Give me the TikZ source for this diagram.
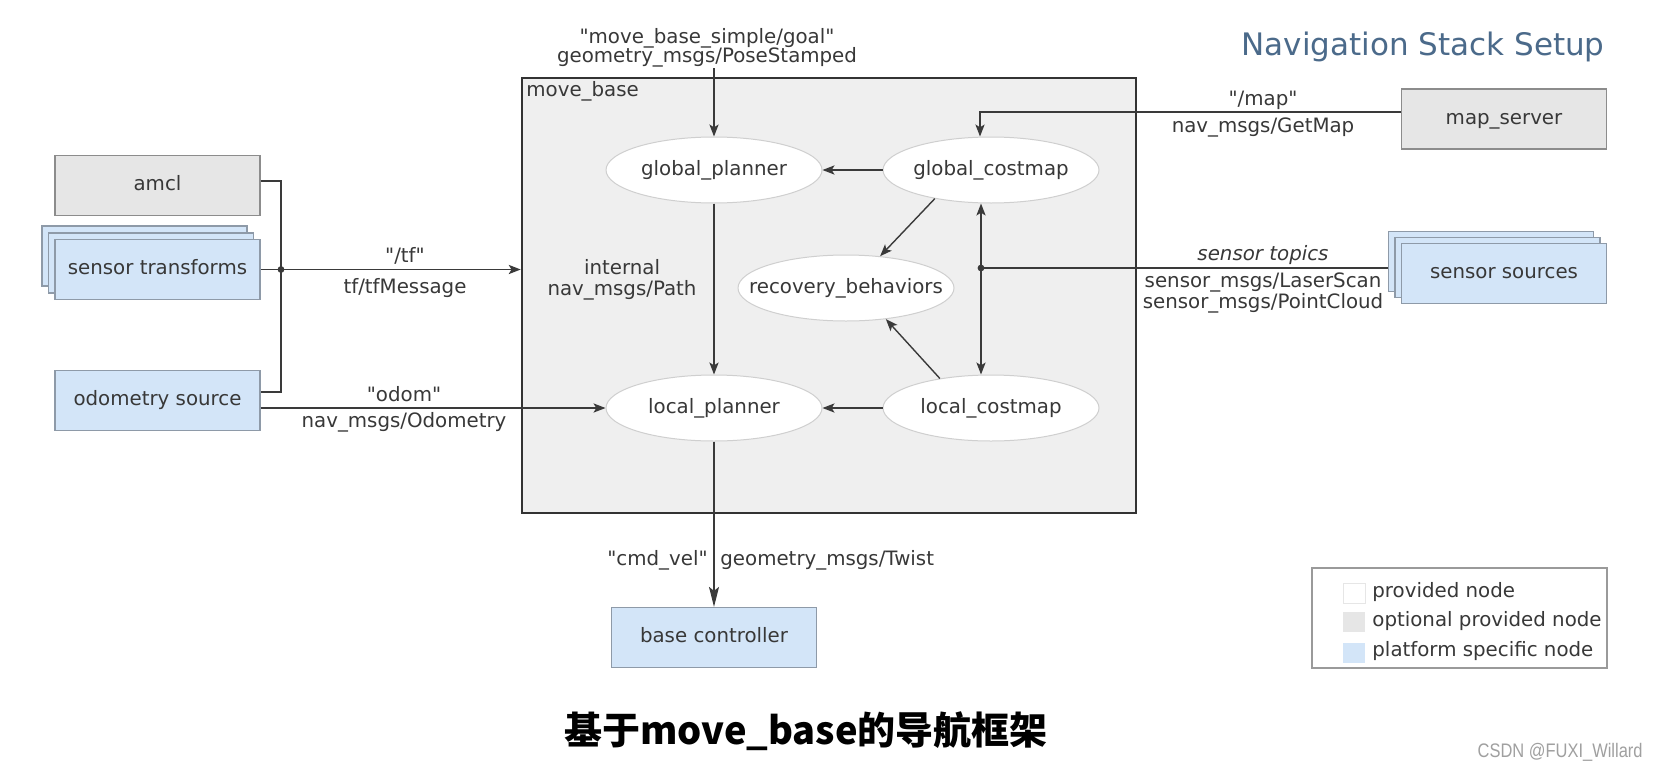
\documentclass[tikz,border=0pt]{standalone}
\usepackage{fontspec}
\setmainfont{DejaVu Sans}[Ligatures=TeXOff]
\newfontfamily\cjk{Noto Sans CJK SC}
\newfontfamily\wmfont[FakeStretch=0.84]{Liberation Sans}
\usetikzlibrary{shapes.geometric,arrows.meta,calc}
\newcommand\qd{\symbol{34}}
\newcommand\ellt[1]{\makebox[0pt]{#1}}
\definecolor{txt}{HTML}{383838}
\definecolor{linec}{HTML}{3A3A3A}
\definecolor{boxb}{HTML}{8C8C8C}
\definecolor{grayf}{HTML}{E6E6E6}
\definecolor{bluef}{HTML}{D3E5F8}
\definecolor{blueb}{HTML}{8E9AA8}
\definecolor{ellb}{HTML}{CFCFCF}
\definecolor{mbf}{HTML}{EFEFEF}
\definecolor{mbb}{HTML}{333333}
\definecolor{titlec}{HTML}{4B6A8A}
\definecolor{legb}{HTML}{9A9A9A}
\definecolor{wmc}{HTML}{A0A0A0}
\tikzset{
  tx/.style={font=\fontsize{9.9}{11}\selectfont, text=txt, text height=0.73em, text depth=0.23em},
  nbox/.style={tx, rectangle, draw=boxb, line width=0.6pt, minimum width=102.5pt, minimum height=30pt, inner sep=0},
  graybox/.style={nbox, fill=grayf},
  bluebox/.style={nbox, fill=bluef, draw=blueb},
  ell/.style={tx, ellipse, draw=ellb, fill=white, line width=0.5pt, minimum width=108pt, minimum height=33pt, inner sep=0},
  lbl/.style={tx, inner sep=0},
  wire/.style={draw=linec, line width=0.7pt},
  conn/.style={wire, ->},
  swatch/.style={rectangle, minimum width=11pt, minimum height=10pt, inner sep=0},
}
\begin{document}
\begin{tikzpicture}[x=0.5pt, y=-0.5pt, >={Stealth[length=6pt,width=4.6pt,inset=1.4pt]}]
\useasboundingbox[fill=white] (0,0) rectangle (1657,776);

% title
\node[anchor=base east, inner sep=0, font=\fontsize{15.5}{18}\selectfont, text=titlec] (title) at (1605,55) {Navigation Stack Setup};

% move_base container
\node[rectangle, draw=mbb, fill=mbf, line width=1.3pt, minimum width=307pt, minimum height=217.5pt, inner sep=0] (mb) at (829,295.5) {};
\node[lbl, anchor=west] (mbl) at (526,91) {move\_base};

% ellipses
\node[ell] (gp) at (714,170) {\ellt{global\_planner}};
\node[ell] (gc) at (991,170) {\ellt{global\_costmap}};
\node[ell] (rb) at (846,288) {\ellt{recovery\_behaviors}};
\node[ell] (lp) at (714,408) {\ellt{local\_planner}};
\node[ell] (lc) at (991,408) {\ellt{local\_costmap}};

% left nodes
\node[graybox] (amcl) at (157.5,185.5) {amcl};
\node[bluebox] (st3) at (144.5,256) {};
\node[bluebox] (st2) at (151,263) {};
\node[bluebox] (st) at (157.5,269.5) {sensor transforms};
\node[bluebox] (odom) at (157.5,400.5) {odometry source};

% right nodes
\node[graybox] (ms) at (1504,119) {map\_server};
\node[bluebox] (ss3) at (1491,261.5) {};
\node[bluebox] (ss2) at (1497.5,267.5) {};
\node[bluebox] (ss) at (1504,273.5) {sensor sources};

% bottom node
\node[bluebox] (bc) at (714,637.5) {base controller};

% goal input
\coordinate (goalc) at (714,68);
\node[lbl] (goal1) at (707,38) {\qd move\_base\_simple/goal\qd};
\node[lbl] (goal2) at (707,57) {geometry\_msgs/PoseStamped};
\draw[conn] (goalc) -- (gp.north);

% internal connections
\draw[conn] (gc.west) -- (gp.east);
\draw[conn] (gp.south) -- (lp.north);
\draw[conn] (lc.west) -- (lp.east);
\draw[conn] (gc.207) -- (rb.43);
\draw[conn] (lc.150) -- (rb.322);
\node[lbl] (int1) at (622,269) {internal};
\node[lbl] (int2) at (622,290) {nav\_msgs/Path};

% costmap double arrow and sensor line
\coordinate (sdot) at (981,268);
\draw[wire, <->] (sdot |- gc.south) -- (sdot |- lc.north);
\draw[wire] (ss3.west |- sdot) -- (sdot);
\fill[linec] (sdot) circle[radius=1.7pt];
\node[lbl, font=\fontsize{9.9}{11}\selectfont\itshape] (stop) at (1263,255) {sensor topics};
\node[lbl] (ls) at (1263,282) {sensor\_msgs/LaserScan};
\node[lbl] (pc) at (1263,303) {sensor\_msgs/PointCloud};

% map
\coordinate (mapc) at (980,112);
\draw[conn] (ms.west |- mapc) -- (mapc) -- (mapc |- gc.north);
\node[lbl] (map1) at (1263,100) {\qd/map\qd};
\node[lbl] (map2) at (1263,127) {nav\_msgs/GetMap};

% left bus
\coordinate (busT) at (281,181);
\coordinate (busB) at (281,392);
\coordinate (busD) at (281,269.5);
\draw[wire] (amcl.east |- busT) -- (busT) -- (busB) -- (odom.east |- busB);
\draw[conn] (st.east) -- (mb.west |- st.east);
\fill[linec] (busD) circle[radius=1.7pt];
\node[lbl] (tf1) at (405,257) {\qd/tf\qd};
\node[lbl] (tf2) at (405,288) {tf/tfMessage};

% odom
\draw[conn] (odom.east |- lp.west) -- (lp.west);
\node[lbl] (od1) at (404,396) {\qd odom\qd};
\node[lbl] (od2) at (404,422) {nav\_msgs/Odometry};

% cmd_vel
\draw[wire, -{Stealth[length=10pt,width=5pt,inset=2pt]}] (lp.south) -- (bc.north);
\node[lbl, anchor=east] (cv1) at (708,560) {\qd cmd\_vel\qd};
\node[lbl, anchor=west] (cv2) at (720,560) {geometry\_msgs/Twist};

% legend
\node[rectangle, draw=legb, fill=white, line width=0.6pt, minimum width=147.5pt, minimum height=50pt, inner sep=0] (leg) at (1459.5,618) {};
\node[swatch, fill=white, draw=grayf, line width=0.4pt] (sw1) at (1354,593) {};
\node[swatch, fill=grayf] (sw2) at (1354,622) {};
\node[swatch, fill=bluef] (sw3) at (1354,653) {};
\node[lbl, anchor=west] (lg1) at (1372,592) {provided node};
\node[lbl, anchor=west] (lg2) at (1372,621) {optional provided node};
\node[lbl, anchor=west] (lg3) at (1372,651) {platform specific node};

% caption
\node[anchor=base, inner sep=0, font=\cjk\bfseries\fontsize{19}{22}\selectfont, text=black] (cap) at (806,744) {基于move\_base的导航框架};

% watermark
\node[anchor=base east, inner sep=0, font=\wmfont\fontsize{9.8}{11}\selectfont, text=wmc] (wm) at (1643,757) {CSDN @FUXI\_Willard};
\end{tikzpicture}
\end{document}
